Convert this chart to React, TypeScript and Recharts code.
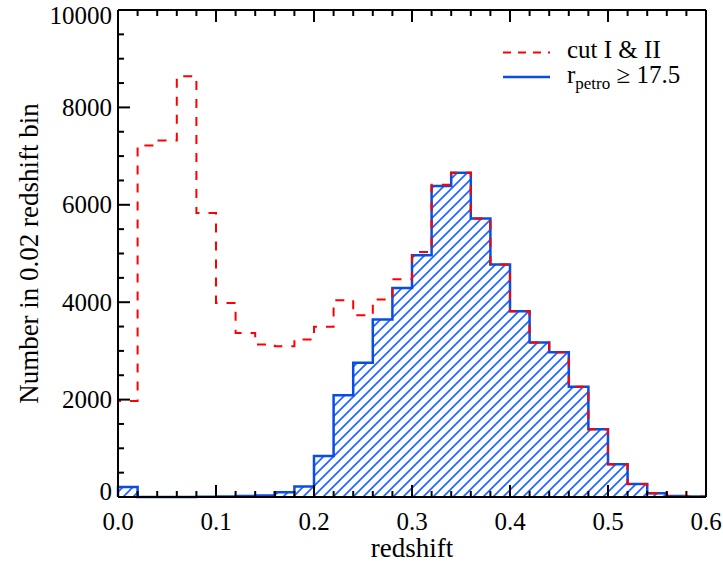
import React from 'react';
import { ComposedChart, Area, Line, XAxis, YAxis, Legend } from 'recharts';

// lower edges of the 0.02-wide redshift bins
const binStarts = [
  0.0, 0.02, 0.04, 0.06, 0.08, 0.1, 0.12, 0.14, 0.16, 0.18,
  0.2, 0.22, 0.24, 0.26, 0.28, 0.3, 0.32, 0.34, 0.36, 0.38,
  0.4, 0.42, 0.44, 0.46, 0.48, 0.5, 0.52, 0.54, 0.56, 0.58,
];
const binEnd = 0.6;

// "cut I & II" histogram (red dashed)
const cutIandII = [
  1970, 7220, 7320, 8640, 5832, 3985, 3370, 3132, 3097, 3235,
  3494, 4041, 3733, 4055, 4470, 5032, 6414, 6660, 5717, 4773,
  3815, 3173, 2974, 2263, 1389, 670, 267, 75, 20, 10,
];

// "r_petro >= 17.5" histogram (blue hatched)
const rPetro = [
  205, 0, 0, 0, 4, 12, 18, 30, 96, 215,
  840, 2090, 2755, 3645, 4294, 4964, 6386, 6660, 5720, 4773,
  3815, 3173, 2974, 2263, 1389, 670, 267, 75, 20, 10,
];

const xTicks = [
  0.0, 0.02, 0.04, 0.06, 0.08, 0.1, 0.12, 0.14, 0.16, 0.18,
  0.2, 0.22, 0.24, 0.26, 0.28, 0.3, 0.32, 0.34, 0.36, 0.38,
  0.4, 0.42, 0.44, 0.46, 0.48, 0.5, 0.52, 0.54, 0.56, 0.58, 0.6,
];
const xMajor = [0.0, 0.1, 0.2, 0.3, 0.4, 0.5, 0.6];
const yTicks = [
  0, 500, 1000, 1500, 2000, 2500, 3000, 3500, 4000, 4500, 5000,
  5500, 6000, 6500, 7000, 7500, 8000, 8500, 9000, 9500, 10000,
];
const yMajor = [0, 2000, 4000, 6000, 8000, 10000];

const data = [
  { x: binStarts[0], red: 0, blue: 0 },
  ...binStarts.map((b, i) => ({ x: b, red: cutIandII[i], blue: rPetro[i] })),
  { x: binEnd, red: cutIandII[cutIandII.length - 1], blue: rPetro[rPetro.length - 1] },
];

const FONT = '"Liberation Serif", "DejaVu Serif", serif';
const RED = '#ff0000';
const BLUE = '#0a4de3';
const HATCH = '#1f66ff';

const isMajorX = (v: number) => xMajor.some((m) => Math.abs(m - v) < 1e-6);
const isMajorY = (v: number) => yMajor.includes(v);

const BottomTick = (props: any) => {
  const { x, y, payload } = props;
  const major = isMajorX(payload.value);
  return (
    <g>
      <line x1={x} y1={y} x2={x} y2={y - (major ? 12 : 6)} stroke="#000" strokeWidth={2} />
      {major && (
        <text x={x} y={y + 33} textAnchor="middle" fontFamily={FONT} fontSize={25} fill="#000">
          {payload.value.toFixed(1)}
        </text>
      )}
    </g>
  );
};

const TopTick = (props: any) => {
  const { x, y, payload } = props;
  const major = isMajorX(payload.value);
  return <line x1={x} y1={y} x2={x} y2={y + (major ? 12 : 6)} stroke="#000" strokeWidth={2} />;
};

const LeftTick = (props: any) => {
  const { x, y, payload } = props;
  const major = isMajorY(payload.value);
  let shift = 0;
  if (payload.value === 0) shift = -6;
  if (payload.value === 10000) shift = 5;
  return (
    <g>
      <line x1={x} y1={y} x2={x + (major ? 12 : 6)} y2={y} stroke="#000" strokeWidth={2} />
      {major && (
        <text x={x - 6} y={y + 8.5 + shift} textAnchor="end" fontFamily={FONT} fontSize={25} fill="#000">
          {payload.value}
        </text>
      )}
    </g>
  );
};

const RightTick = (props: any) => {
  const { x, y, payload } = props;
  const major = isMajorY(payload.value);
  return <line x1={x} y1={y} x2={x - (major ? 12 : 6)} y2={y} stroke="#000" strokeWidth={2} />;
};

const LegendBox = () => (
  <svg width={220} height={60} style={{ overflow: 'visible' }}>
    <line x1={8} y1={17.5} x2={55} y2={17.5} stroke={RED} strokeWidth={2} strokeDasharray="8 7" />
    <text x={72} y={23} fontFamily={FONT} fontSize={25} fill="#000">cut I &amp; II</text>
    <line x1={8} y1={42} x2={55} y2={42} stroke={BLUE} strokeWidth={2.5} />
    <text x={72} y={48} fontFamily={FONT} fontSize={25} fill="#000">
      r
      <tspan fontSize={17} dy={6}>petro</tspan>
      <tspan dy={-6}> ≥ 17.5</tspan>
    </text>
  </svg>
);

export default function App() {
  return (
    <div style={{ position: 'absolute', left: 0, top: 0, width: 723, height: 563, background: '#fff' }}>
      <ComposedChart
        width={723}
        height={563}
        data={data}
        margin={{ top: 0, right: 0, bottom: 0, left: 0 }}
      >
        <defs>
          <pattern id="hatch" patternUnits="userSpaceOnUse" width={10} height={10}>
            <path d="M-1,1 l2,-2 M0,10 l10,-10 M9,11 l2,-2" stroke={HATCH} strokeWidth={1.7} />
          </pattern>
        </defs>
        <XAxis
          xAxisId="bottom"
          dataKey="x"
          type="number"
          domain={[0, 0.6]}
          ticks={xTicks}
          interval={0}
          height={66}
          tickSize={0}
          tickMargin={0}
          tickLine={false}
          axisLine={{ stroke: '#000', strokeWidth: 2 }}
          tick={<BottomTick />}
          label={(p: any) => {
            const vb = p.viewBox || { x: 118, y: 497, width: 588 };
            return (
              <text x={vb.x + vb.width / 2} y={vb.y + 60} textAnchor="middle" fontFamily={FONT} fontSize={27} fill="#000">
                redshift
              </text>
            );
          }}
        />
        <XAxis
          xAxisId="top"
          orientation="top"
          dataKey="x"
          type="number"
          domain={[0, 0.6]}
          ticks={xTicks}
          interval={0}
          height={10}
          tickSize={0}
          tickMargin={0}
          tickLine={false}
          axisLine={{ stroke: '#000', strokeWidth: 2 }}
          tick={<TopTick />}
        />
        <YAxis
          yAxisId="left"
          type="number"
          domain={[0, 10000]}
          ticks={yTicks}
          interval={0}
          width={118}
          tickSize={0}
          tickMargin={0}
          tickLine={false}
          axisLine={{ stroke: '#000', strokeWidth: 2 }}
          tick={<LeftTick />}
          label={(p: any) => {
            const vb = p.viewBox || { x: 0, y: 10, width: 118, height: 487 };
            const cy = vb.y + vb.height / 2;
            return (
              <text
                x={38}
                y={cy}
                transform={`rotate(-90, 38, ${cy})`}
                textAnchor="middle"
                fontFamily={FONT}
                fontSize={27}
                fill="#000"
              >
                Number in 0.02 redshift bin
              </text>
            );
          }}
        />
        <YAxis
          yAxisId="right"
          orientation="right"
          type="number"
          domain={[0, 10000]}
          ticks={yTicks}
          interval={0}
          width={17}
          tickSize={0}
          tickMargin={0}
          tickLine={false}
          axisLine={{ stroke: '#000', strokeWidth: 2 }}
          tick={<RightTick />}
        />
        <Area
          xAxisId="bottom"
          yAxisId="left"
          type="stepAfter"
          dataKey="blue"
          name="r_petro ≥ 17.5"
          stroke={BLUE}
          strokeWidth={2.5}
          fill="url(#hatch)"
          fillOpacity={1}
          isAnimationActive={false}
          dot={false}
          activeDot={false}
        />
        <Line
          xAxisId="bottom"
          yAxisId="left"
          type="stepAfter"
          dataKey="red"
          name="cut I & II"
          stroke={RED}
          strokeWidth={2}
          strokeDasharray="9 9"
          isAnimationActive={false}
          dot={false}
          activeDot={false}
        />
        <Legend
          layout="horizontal"
          verticalAlign="middle"
          align="center"
          content={<LegendBox />}
          wrapperStyle={{ position: 'absolute', left: 495, top: 35, width: 220, height: 60 }}
        />
      </ComposedChart>
    </div>
  );
}
